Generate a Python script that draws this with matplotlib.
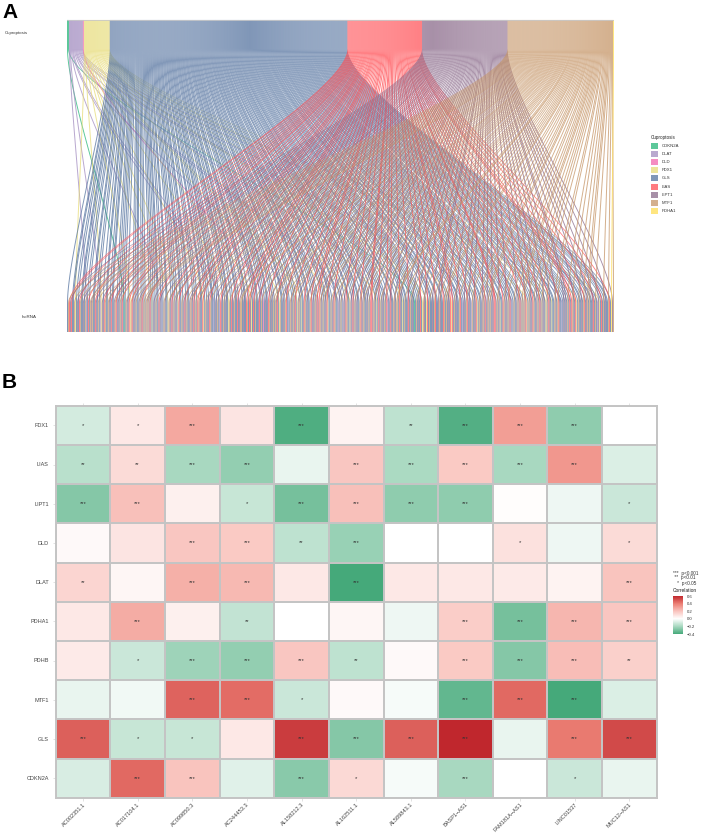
import numpy as np
import matplotlib
matplotlib.use("Agg")
import matplotlib.pyplot as plt
from matplotlib.collections import PolyCollection
from matplotlib.colors import LinearSegmentedColormap
from matplotlib.patches import Rectangle

plt.rcParams['font.family'] = ['Liberation Sans', 'DejaVu Sans']

# ---------------- panel A data ----------------
genes = ["CDKN2A", "DLAT", "DLD", "FDX1", "GLS", "LIAS", "LIPT1", "MTF1", "PDHA1"]
gene_codes = "CADFGLPMH"
# fill colours (drawn with alpha, like the ggplot flows)
gene_colors = ["#26B678", "#A28CC0", "#F267AE", "#E7DC78", "#5674A0",
               "#FF4F55", "#8B6B8B", "#C69668", "#FFDE56"]
flow_alpha = 0.75

# gene of each lncRNA link, read left to right along the lncRNA band
links = ("GMLPLGGMFGPGLMGGPGMAGLGMP"
         "MGGLPGMGAFPGLMGGMPGLGGPML"
         "GPGMGLGCGMPGLFMLGPGMGGPMG"
         "LGMGMPMGLGFGPGMGGLPGAGMPG"
         "GFMPGLGMGPGFLGGMGPLGMGGPM"
         "PGLGMGLMPGGLFGMGPGLMGGAGP"
         "GMGALPGMGPGGFMGLGPMGGLGPM"
         "MGPGGLMGLPFGLGMGGPLGMGDGP"
         "GGLMGPGMGMPLGFMGGPGMLGAGM"
         "PGMGLGFPMGFGGLMGPGGMLGPGM"
         "GLGLMPGMGPGLFGGMGPLMGGAPG"
         "MGAPGLMGGFPGLGMGPGGMLGPMG"
         "GPGMGLLGMPGFGLGMGPGMGLAGP"
         "LGGMPGMMGLPGFGMGGPLGMGPGC"
         "GMGPGLGFMPGFLGMGGPGMLGGPM"
         "PGGLMGMGPGLFLGMGPGGMLGAGP"
         "GMLGPGAMGPGLFGMGGPMGLGPMG"
         "MGPGLLGMGPFGGLMGPGMGLGAGM"
         "GGPMGLGMGMPLFGMGPGLMGGPMG"
         "LGMGPGFMGLPGFGGMPGMLGGAGP"
         "GPGMGLGLMPGLFGMGGPGMLGPMG"
         "MGGPLGMGAPFGLGMGPGGMLGHPM")

# ---------------- panel B data ----------------
rows = ["FDX1", "LIAS", "LIPT1", "DLD", "DLAT", "PDHA1", "PDHB", "MTF1", "GLS", "CDKN2A"]
cols = ["AC002351.1", "AC017104.1", "AC099850.3", "AC244453.3", "AL158212.3",
        "AL162511.1", "AL589843.1", "BASP1\u2212AS1", "FAM181A\u2212AS1",
        "LINC01537", "MUC12\u2212AS1"]
corr = [
    [-0.10, 0.08, 0.28, 0.09, -0.38, 0.04, -0.15, -0.37, 0.31, -0.25, 0.00],
    [-0.16, 0.12, -0.20, -0.24, -0.05, 0.19, -0.19, 0.18, -0.20, 0.33, -0.08],
    [-0.27, 0.21, 0.05, -0.13, -0.30, 0.21, -0.25, -0.25, 0.01, -0.04, -0.12],
    [0.02, 0.09, 0.19, 0.18, -0.15, -0.23, 0.00, 0.00, 0.10, -0.04, 0.12],
    [0.14, 0.03, 0.26, 0.23, 0.08, -0.42, 0.08, 0.08, 0.07, 0.04, 0.20],
    [0.08, 0.27, 0.05, -0.14, 0.00, 0.03, -0.04, 0.17, -0.30, 0.24, 0.19],
    [0.07, -0.12, -0.22, -0.24, 0.19, -0.15, 0.02, 0.18, -0.27, 0.22, 0.16],
    [-0.05, -0.03, 0.46, 0.44, -0.12, 0.02, -0.02, -0.34, 0.45, -0.40, -0.08],
    [0.47, -0.13, -0.13, 0.08, 0.55, -0.27, 0.47, 0.62, -0.05, 0.41, 0.52],
    [-0.09, 0.45, 0.20, -0.07, -0.26, 0.13, -0.02, -0.20, 0.00, -0.12, -0.05],
]
stars = [
    ["*", "*", "***", "", "***", "", "**", "***", "***", "***", ""],
    ["**", "**", "***", "***", "", "***", "***", "***", "***", "***", ""],
    ["***", "***", "", "*", "***", "***", "***", "***", "", "", "*"],
    ["", "", "***", "***", "**", "***", "", "", "*", "", "*"],
    ["**", "", "***", "***", "", "***", "", "", "", "", "***"],
    ["", "***", "", "**", "", "", "", "***", "***", "***", "***"],
    ["", "*", "***", "***", "***", "**", "", "***", "***", "***", "**"],
    ["", "", "***", "***", "*", "", "", "***", "***", "***", ""],
    ["***", "*", "*", "", "***", "***", "***", "***", "", "***", "***"],
    ["", "***", "***", "", "***", "*", "", "***", "", "*", ""],
]

W, H = 713, 834
fig = plt.figure(figsize=(W / 100, H / 100), dpi=100)

def fbox(x0, y0, x1, y1):
    return [x0 / W, 1 - y1 / H, (x1 - x0) / W, (y1 - y0) / H]

# ================= panel A: alluvial =================
ax = fig.add_axes(fbox(67, 19, 614, 332))
N = len(links)
band = 29 / 313.0
ytop, ybot = 1 - band, band

gidx = [gene_codes.index(c) for c in links]
counts = [gidx.count(g) for g in range(len(genes))]
starts = np.concatenate([[0], np.cumsum(counts)[:-1]])

# top position of each link: inside its gene block, in bottom order
top_pos = np.zeros(N)
seen = [0] * len(genes)
for b, g in enumerate(gidx):
    top_pos[b] = starts[g] + seen[g]
    seen[g] += 1

# flow curve: cubic bezier between the strata, vertical inside them
k = 0.2
u = np.linspace(0, 1, 70)
fx = 3 * u ** 2 - 2 * u ** 3
fy = 3 * (1 - u) ** 2 * u * k + 3 * (1 - u) * u ** 2 * (1 - k) + u ** 3
yy = np.concatenate([[1.0], ytop - (ytop - ybot) * fy, [0.0]])
polys, pcols = [], []
order = sorted(range(N), key=lambda b: gidx[b])
for b in order:
    g = gidx[b]
    xm = top_pos[b] + (b - top_pos[b]) * fx
    xl = np.concatenate([[top_pos[b]], xm, [b]])
    xr = xl + 1.0
    poly = np.column_stack([np.concatenate([xl, xr[::-1]]),
                            np.concatenate([yy, yy[::-1]])])
    polys.append(poly)
    pcols.append(gene_colors[g])
pc = PolyCollection(polys, facecolors=pcols, edgecolors='none',
                    alpha=flow_alpha, antialiased=True)
ax.add_collection(pc)
ax.plot([0, N], [1, 1], color='#C8C8C8', lw=0.6)
ax.set_xlim(0, N)
ax.set_ylim(0, 1.003)
ax.axis('off')

fig.text(5 / W, 1 - 33 / H, "Cuproptosis", fontsize=3.2, va='center', color='#333333')
fig.text(22 / W, 1 - 317 / H, "lncRNA", fontsize=3.2, va='center', color='#333333')

# legend A
fig.text(651 / W, 1 - 138 / H, "Cuproptosis", fontsize=3.3, va='center', color='#222222')
for i, (gname, gc) in enumerate(zip(genes, gene_colors)):
    yc = 146 + i * 8.1
    fig.add_artist(Rectangle((651 / W, 1 - (yc + 3) / H), 7 / W, 6 / H,
                             transform=fig.transFigure, facecolor=gc,
                             alpha=flow_alpha, edgecolor='none'))
    fig.text(662 / W, 1 - yc / H, gname, fontsize=3.1, va='center', color='#333333')

fig.text(2 / W, 1 - 3 / H, "A", fontsize=15, fontweight='bold', va='top')
fig.text(2 / W, 1 - 373 / H, "B", fontsize=15, fontweight='bold', va='top')

# ================= panel B: heatmap =================
bx = fig.add_axes(fbox(55.7, 405.7, 656.7, 797.7))
stops = [(-0.4, "#45A97A"), (-0.2, "#A8D8C0"), (0.0, "#FFFFFF"),
         (0.2, "#F9C4BE"), (0.4, "#EC7F74"), (0.6, "#C0272D")]
cmap = LinearSegmentedColormap.from_list(
    "corr", [((v + 0.4) / 1.0, c) for v, c in stops])
mat = np.array(corr)
mesh = bx.pcolormesh(np.arange(len(cols) + 1), np.arange(len(rows) + 1), mat,
                     cmap=cmap, vmin=-0.4, vmax=0.6,
                     edgecolors='#C4C4C4', linewidth=1.4)
for i in range(len(rows)):
    for j in range(len(cols)):
        if stars[i][j]:
            bx.text(j + 0.5, i + 0.5, stars[i][j], ha='center', va='center',
                    fontsize=4.2, color='#333333')
bx.set_xlim(0, len(cols))
bx.set_ylim(len(rows), 0)
bx.set_yticks(np.arange(len(rows)) + 0.5)
bx.set_yticklabels(rows, fontsize=4.0, color='#444444')
bx.set_xticks(np.arange(len(cols)) + 0.5)
bx.set_xticklabels(cols, fontsize=4.1, color='#444444', rotation=45,
                   ha='right', rotation_mode='anchor')
bx.tick_params(axis='both', length=2, width=0.4, color='#CCCCCC', pad=3,
               top=True)
bx.tick_params(axis='x', pad=1)
for sp in bx.spines.values():
    sp.set_color('#C4C4C4')
    sp.set_linewidth(1.4)

# legend B
for kk, lab in enumerate(["***  p<0.001", " **  p<0.01", "   *  p<0.05"]):
    fig.text(673 / W, 1 - (573 + 5 * kk) / H, lab, fontsize=3.4, va='center',
             color='#333333')
fig.text(673 / W, 1 - 591 / H, "Correlation", fontsize=3.5, va='center', color='#222222')
cax = fig.add_axes(fbox(673, 596, 683, 634))
cb = fig.colorbar(mesh, cax=cax, ticks=[0.6, 0.4, 0.2, 0.0, -0.2, -0.4])
cb.outline.set_visible(False)
cb.ax.set_yticklabels(["0.6", "0.4", "0.2", "0.0", "\u22120.2", "\u22120.4"])
cb.ax.tick_params(labelsize=3.1, length=0, pad=3, colors='#333333')

fig.savefig("out.png", dpi=100)
